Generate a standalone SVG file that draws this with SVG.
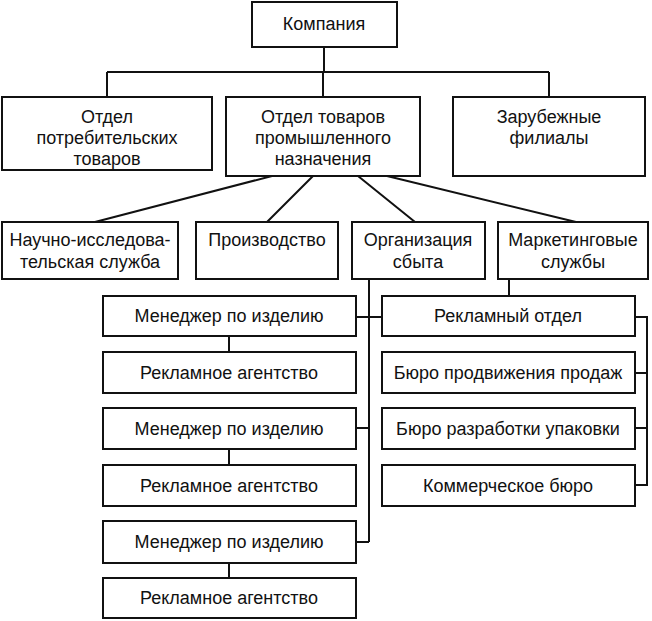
<svg xmlns="http://www.w3.org/2000/svg" width="652" height="621" viewBox="0 0 652 621">
<style>
rect{fill:#fff;stroke:#111;stroke-width:2}
text{font-family:"Liberation Sans",Arial,sans-serif;font-size:18px;fill:#111;text-anchor:middle}
#connectors path{fill:none;stroke:#111;stroke-width:2}
</style>
<rect x="0" y="0" width="652" height="621" style="stroke:none"/>
<g id="connectors">
<path d="M324 47V72M107 72H549M107 72V97M323 72V97M549 72V97"/>
<path d="M272 176L95 222M313 176L267 222M358 176L415 222M387 176L576 222"/>
<path d="M369 279V542M356 317H382M356 428H369M356 542H369"/>
<path d="M509 279V296M635 317H647V485H635M635 373H647M635 428H647"/>
<path d="M229 336V352M229 449V465M229 563V578"/>
</g>
<g id="n0"><rect x="252" y="2" width="145" height="45"/><text x="324" y="30">Компания</text></g>
<g id="n1"><rect x="2" y="97" width="210" height="73"/><text x="107" y="123">Отдел</text><text x="107" y="144">потребительских</text><text x="107" y="165">товаров</text></g>
<g id="n2"><rect x="226" y="97" width="194" height="79"/><text x="323" y="123">Отдел товаров</text><text x="323" y="144">промышленного</text><text x="323" y="165">назначения</text></g>
<g id="n3"><rect x="453" y="97" width="192" height="79"/><text x="549" y="123">Зарубежные</text><text x="549" y="144">филиалы</text></g>
<g id="n4"><rect x="2" y="222" width="176" height="57"/><text x="90" y="246">Научно-исследова-</text><text x="90" y="268">тельская служба</text></g>
<g id="n5"><rect x="196" y="222" width="142" height="57"/><text x="267" y="246">Производство</text></g>
<g id="n6"><rect x="352" y="222" width="133" height="57"/><text x="418" y="246">Организация</text><text x="418" y="268">сбыта</text></g>
<g id="n7"><rect x="498" y="222" width="150" height="57"/><text x="573" y="246">Маркетинговые</text><text x="573" y="268">службы</text></g>
<g id="m1"><rect x="103" y="296" width="253" height="40"/><text x="229" y="322">Менеджер по изделию</text></g>
<g id="a1"><rect x="103" y="352" width="253" height="41"/><text x="229" y="379">Рекламное агентство</text></g>
<g id="m2"><rect x="103" y="408" width="253" height="41"/><text x="229" y="435">Менеджер по изделию</text></g>
<g id="a2"><rect x="103" y="465" width="253" height="41"/><text x="229" y="492">Рекламное агентство</text></g>
<g id="m3"><rect x="103" y="521" width="253" height="42"/><text x="229" y="548">Менеджер по изделию</text></g>
<g id="a3"><rect x="103" y="578" width="253" height="40"/><text x="229" y="604">Рекламное агентство</text></g>
<g id="r1"><rect x="382" y="296" width="253" height="40"/><text x="508" y="322">Рекламный отдел</text></g>
<g id="r2"><rect x="382" y="352" width="253" height="41"/><text x="508" y="379">Бюро продвижения продаж</text></g>
<g id="r3"><rect x="382" y="408" width="253" height="41"/><text x="508" y="435">Бюро разработки упаковки</text></g>
<g id="r4"><rect x="382" y="465" width="253" height="41"/><text x="508" y="492">Коммерческое бюро</text></g>
</svg>
